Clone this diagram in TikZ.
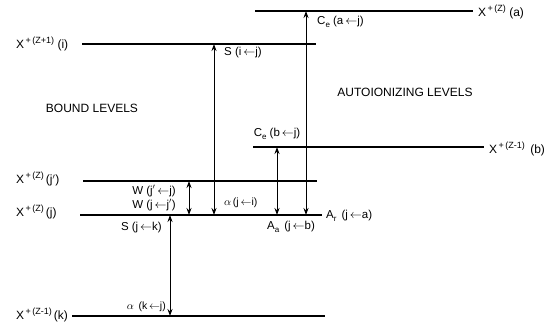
\documentclass[tikz,border=0pt]{standalone}
\usepackage{fontspec}
\setmainfont{Liberation Sans}
\usetikzlibrary{arrows.meta}
\newcommand{\la}{\ensuremath{\leftarrow}}
\newcommand{\upidx}[1]{\raisebox{0.42em}{\fontsize{9}{10}\selectfont #1}}
\newcommand{\dnidx}[1]{\raisebox{-0.25em}{\fontsize{8}{9}\selectfont #1}}
\begin{document}
\begin{tikzpicture}[x=1pt,y=-1pt,
  level/.style={line width=1.1pt},
  trans/.style={line width=1pt,{Stealth[length=7pt,width=5pt]}-{Stealth[length=7pt,width=5pt]}},
  lvl/.style={inner sep=0pt,font=\fontsize{12}{14}\selectfont},
  lab/.style={inner sep=0pt,font=\fontsize{11.5}{13}\selectfont},
  alab/.style={inner sep=0pt,font=\fontsize{10.5}{12}\selectfont},
  big/.style={inner sep=0pt,font=\fontsize{12}{14}\selectfont}]
\useasboundingbox (0,0) rectangle (549,325);
% level end points
\coordinate (aL) at (255,11);  \coordinate (aR) at (473,11);
\coordinate (iL) at (82,44);   \coordinate (iR) at (316,44);
\coordinate (bL) at (253,147); \coordinate (bR) at (484,147);
\coordinate (jpL) at (83,181); \coordinate (jpR) at (317,181);
\coordinate (jL) at (80,215);  \coordinate (jR) at (322,215);
\coordinate (kL) at (72,316);  \coordinate (kR) at (325,316);
\draw[level] (aL) -- (aR);
\draw[level] (iL) -- (iR);
\draw[level] (bL) -- (bR);
\draw[level] (jpL) -- (jpR);
\draw[level] (jL) -- (jR);
\draw[level] (kL) -- (kR);
% level labels
\node[lvl,anchor=west] (la) at (478,12) {X\upidx{\,+\,(Z)} (a)};
\node[lvl,anchor=west] (li) at (16,44) {X\upidx{\,+\,(Z+1)} (i)};
\node[lvl,anchor=west] (lb) at (489,149) {X\upidx{\,+\,(Z-1)} \,(b)};
\node[lvl,anchor=west] (ljp) at (16,179) {X\upidx{\,+\,(Z)}\,(j$'$)};
\node[lvl,anchor=west] (lj) at (16,212) {X\upidx{\,+\,(Z)}\,(j)};
\node[lvl,anchor=west] (lk) at (16,315) {X\upidx{\,+\,(Z-1)}\,(k)};
\node[big] (bound) at (92,108) {BOUND LEVELS};
\node[big] (auto) at (405,92) {AUTOIONIZING LEVELS};
% transition end points
\coordinate (t1a) at (306,215); \coordinate (t1b) at (306,11);
\coordinate (t2a) at (277,215); \coordinate (t2b) at (277,147);
\coordinate (t3a) at (214,215); \coordinate (t3b) at (214,44);
\coordinate (t4a) at (189,215); \coordinate (t4b) at (189,181);
\coordinate (t5a) at (170,316); \coordinate (t5b) at (170,215);
\draw[trans] (t1a) -- (t1b);
\draw[trans] (t2a) -- (t2b);
\draw[trans] (t3a) -- (t3b);
\draw[trans] (t4a) -- (t4b);
\draw[trans] (t5a) -- (t5b);
% transition labels
\node[lab,anchor=west] (cea) at (317,22) {C\dnidx{e} (a\,\la j)};
\node[lab,anchor=west] (ar) at (326,216) {A\dnidx{r} \,(j\,\la a)};
\node[lab] (ceb) at (277,134) {C\dnidx{e} (b\,\la j)};
\node[lab] (aa) at (291,227) {A\dnidx{a} \,(j\,\la b)};
\node[lab,anchor=west] (sij) at (224,53) {S (i\,\la j)};
\node[alab,anchor=west] (aji) at (224,203) {$\alpha$\,(j\,\la i)};
\node[lab,anchor=east] (w1) at (176,191) {W (j$'$\,\la j)};
\node[lab,anchor=east] (w2) at (176,205) {W (j\,\la j$'$)};
\node[lab,anchor=east] (sjk) at (162,228) {S (j\,\la k)};
\node[alab,anchor=east] (akj) at (166,307) {$\alpha$ \,(k\,\la j)};
\end{tikzpicture}
\end{document}
